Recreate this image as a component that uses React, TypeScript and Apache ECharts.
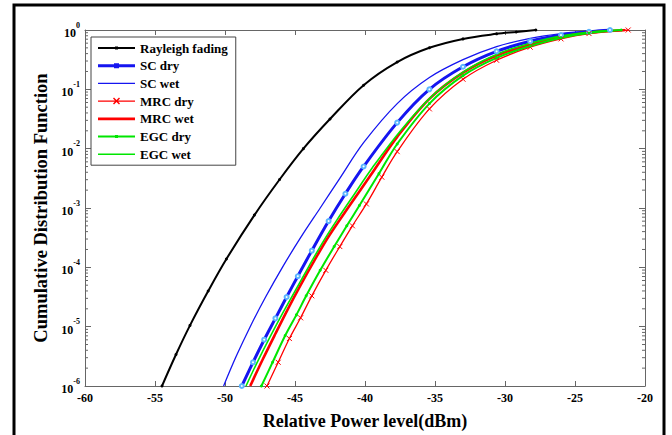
import React, { useEffect, useRef } from "react";
import * as echarts from "echarts";

// Relative power level (dBm) and cumulative distribution values
const rayleighX = [-54.5, -53.5, -52.5, -51.2, -49.9, -47.9, -46.1, -44.4, -42.5, -40.1, -37.7, -35.4, -33.0, -30.6, -29.2, -27.8];
const rayleighCdf = [1e-6, 3.39e-6, 1.05e-5, 3.98e-5, 1.38e-4, 7.59e-4, 3.02e-3, 0.01, 0.0316, 0.1175, 0.288, 0.501, 0.708, 0.861, 0.927, 1];

const scDryX = [-48.8, -48.0, -47.2, -46.4, -45.6, -44.8, -43.8, -42.6, -41.4, -40.1, -37.7, -35.4, -33.0, -30.6, -28.2, -26.0, -24.0, -22.5];
const scDryCdf = [1e-6, 2.51e-6, 6.03e-6, 1.38e-5, 3.16e-5, 7.08e-5, 1.91e-4, 6.03e-4, 1.74e-3, 5.01e-3, 0.0275, 0.1, 0.24, 0.437, 0.646, 0.822, 0.933, 1];

const scWetX = [-50.1, -49.2, -48.2, -47.1, -45.9, -44.6, -43.2, -41.8, -40.1, -37.7, -35.4, -33.0, -30.6, -28.2, -26.0, -24.0, -22.4];
const scWetCdf = [1e-6, 3.16e-6, 1e-5, 3.16e-5, 1e-4, 3.16e-4, 1e-3, 3.16e-3, 0.0126, 0.0575, 0.158, 0.316, 0.525, 0.724, 0.871, 0.955, 1];

const mrcDryX = [-47.0, -46.2, -45.4, -44.6, -43.8, -42.8, -41.8, -40.9, -39.9, -38.8, -37.7, -35.4, -33.0, -30.6, -28.2, -26.0, -24.0, -21.2];
const mrcDryCdf = [1e-6, 2.51e-6, 6.31e-6, 1.41e-5, 3.31e-5, 8.91e-5, 2.24e-4, 5.01e-4, 1.17e-3, 3.31e-3, 8.91e-3, 0.0468, 0.148, 0.309, 0.513, 0.708, 0.871, 1];

const mrcWetX = [-48.2, -47.3, -46.4, -45.5, -44.6, -43.6, -42.6, -41.1, -39.6, -37.7, -35.4, -33.0, -30.6, -28.2, -26.0, -24.0, -21.4];
const mrcWetCdf = [1e-6, 2.82e-6, 7.59e-6, 2.0e-5, 5.01e-5, 1.32e-4, 3.31e-4, 1.1e-3, 3.55e-3, 0.0158, 0.0692, 0.191, 0.372, 0.562, 0.759, 0.902, 1];

const egcDryX = [-47.4, -46.6, -45.7, -44.9, -44.2, -43.2, -42.2, -41.3, -40.4, -39.0, -37.7, -35.4, -33.0, -30.6, -28.2, -26.0, -24.0, -21.7];
const egcDryCdf = [1e-6, 2.51e-6, 7.08e-6, 1.58e-5, 3.31e-5, 8.91e-5, 2.24e-4, 5.01e-4, 1.1e-3, 3.8e-3, 0.012, 0.0575, 0.17, 0.339, 0.537, 0.741, 0.891, 1];

const egcWetX = [-48.5, -47.7, -46.8, -45.9, -45.0, -44.0, -43.0, -42.0, -40.8, -39.5, -37.4, -35.1, -32.8, -30.4, -28.0, -25.8, -23.8, -21.7];
const egcWetCdf = [1e-6, 2.51e-6, 6.61e-6, 1.66e-5, 3.98e-5, 1.05e-4, 2.69e-4, 6.31e-4, 1.66e-3, 4.68e-3, 0.0209, 0.0813, 0.209, 0.407, 0.617, 0.804, 0.933, 1];

const seriesNames = ["Rayleigh fading", "SC dry", "SC wet", "MRC dry", "MRC wet", "EGC dry", "EGC wet"];
const xMin = -60;
const xMax = -20;
const xStep = 5;
const yMin = 1e-6;
const yMax = 1;
const minorMultipliers = [2, 3, 4, 5, 6, 7, 8, 9];

const FONT = "'Liberation Serif', 'Times New Roman', serif";

// legend glyphs: a line sample with the series' marker in its middle
const legendIcons = [
  "path://M0,6h37v2h-37z M17,5.5h3v3h-3z",
  "path://M0,5h37v3h-37z M16,4h5v5h-5z",
  "path://M0,0h37v1.3h-37z",
  "path://M0,4.35h37v1.3h-37z M15,2.5l1,-1l2.5,2.5l2.5,-2.5l1,1l-2.5,2.5l2.5,2.5l-1,1l-2.5,-2.5l-2.5,2.5l-1,-1l2.5,-2.5z",
  "path://M0,0h37v2.8h-37z",
  "path://M0,6h37v2h-37z M17,5.5h3v3h-3z",
  "path://M0,0h37v1.6h-37z",
];

export default function App() {
  const ref = useRef<HTMLDivElement>(null);

  useEffect(() => {
    if (!ref.current) return;
    const chart = echarts.init(ref.current, null, { renderer: "svg" });
    const pair = (xs: number[], ys: number[]) => xs.map((x, i) => [x, ys[i]]);

    const BLUE = "#1515f0";
    const RED = "#ff0000";
    const GREEN = "#00e600";
    const AXIS = "#666";
    const colors = ["#000", BLUE, BLUE, RED, RED, GREEN, GREEN];

    const option: any = {
      animation: false,
      backgroundColor: "#fff",
      grid: { left: 85, right: 27, top: 30, bottom: 43, containLabel: false },
      legend: {
        orient: "vertical",
        left: 91,
        top: 37,
        padding: [4, 8, 4, 7],
        itemWidth: 37,
        itemHeight: 14,
        itemGap: 3.7,
        symbolKeepAspect: true,
        backgroundColor: "#fff",
        borderColor: "#444",
        borderWidth: 1,
        textStyle: { fontFamily: FONT, fontWeight: "bold", fontSize: 13, color: "#000", lineHeight: 14 },
        data: seriesNames.map((name, i) => ({
          name,
          icon: legendIcons[i],
          itemStyle: { color: colors[i], borderWidth: 0, opacity: 1 },
        })),
      },
      xAxis: [
        {
          type: "value",
          min: xMin,
          max: xMax,
          interval: xStep,
          name: "Relative Power level(dBm)",
          nameLocation: "middle",
          nameGap: 26,
          nameTextStyle: { fontFamily: FONT, fontWeight: "bold", fontSize: 18, color: "#000", verticalAlign: "top" },
          axisLine: { lineStyle: { color: AXIS, width: 1 } },
          axisTick: { inside: true, length: 5, lineStyle: { color: AXIS } },
          axisLabel: { fontFamily: FONT, fontWeight: "bold", fontSize: 12, color: "#000", margin: 6 },
          splitLine: { show: false },
        },
        {
          type: "value",
          position: "top",
          min: xMin,
          max: xMax,
          interval: xStep,
          axisLine: { lineStyle: { color: AXIS, width: 1 } },
          axisTick: { inside: true, length: 5, lineStyle: { color: AXIS } },
          axisLabel: { show: false },
          splitLine: { show: false },
        },
      ],
      yAxis: [
        {
          type: "log",
          logBase: 10,
          min: yMin,
          max: yMax,
          name: "Cumulative Distribution Function",
          nameLocation: "middle",
          nameGap: 30,
          nameTextStyle: { fontFamily: FONT, fontWeight: "bold", fontSize: 18.5, color: "#000" },
          axisLine: { lineStyle: { color: AXIS, width: 1 } },
          axisTick: { inside: true, length: 6, lineStyle: { color: AXIS } },
          axisLabel: {
            margin: 5,
            formatter: (v: number) => `{b|10}{s|${Math.round(Math.log10(v))}}`,
            rich: {
              b: { fontFamily: FONT, fontWeight: "bold", fontSize: 12, color: "#000", lineHeight: 18, verticalAlign: "bottom" },
              s: { fontFamily: FONT, fontWeight: "bold", fontSize: 8, color: "#000", lineHeight: 18, verticalAlign: "top" },
            },
          },
          splitLine: { show: false },
        },
        {
          type: "log",
          logBase: 10,
          min: yMin,
          max: yMax,
          position: "right",
          axisLine: { lineStyle: { color: AXIS, width: 1 } },
          axisTick: { inside: true, length: 6, lineStyle: { color: AXIS } },
          axisLabel: { show: false },
          splitLine: { show: false },
        },
      ],
      series: [
        {
          name: seriesNames[0],
          type: "line",
          data: pair(rayleighX, rayleighCdf),
          smooth: 0.35,
          symbol: "circle",
          symbolSize: 3,
          color: "#000",
          lineStyle: { color: "#000", width: 2 },
          itemStyle: { color: "#000" },
        },
        {
          name: seriesNames[1],
          type: "line",
          data: pair(scDryX, scDryCdf),
          smooth: 0.35,
          symbol: "emptyCircle",
          symbolSize: 4,
          color: BLUE,
          lineStyle: { color: BLUE, width: 3 },
          itemStyle: { color: "#5ab4ff", borderColor: BLUE, borderWidth: 1 },
        },
        {
          name: seriesNames[2],
          type: "line",
          data: pair(scWetX, scWetCdf),
          smooth: 0.35,
          symbol: "none",
          color: BLUE,
          lineStyle: { color: BLUE, width: 1.3 },
        },
        {
          name: seriesNames[3],
          type: "line",
          data: pair(mrcDryX, mrcDryCdf),
          smooth: 0.35,
          symbol: "path://M0,0L10,10M10,0L0,10",
          symbolSize: 5,
          color: RED,
          lineStyle: { color: RED, width: 1.3 },
          itemStyle: { color: "none", borderColor: RED, borderWidth: 1 },
        },
        {
          name: seriesNames[4],
          type: "line",
          data: pair(mrcWetX, mrcWetCdf),
          smooth: 0.35,
          symbol: "none",
          color: RED,
          lineStyle: { color: RED, width: 2.6 },
        },
        {
          name: seriesNames[5],
          type: "line",
          data: pair(egcDryX, egcDryCdf),
          smooth: 0.35,
          symbol: "circle",
          symbolSize: 3,
          color: GREEN,
          lineStyle: { color: GREEN, width: 2 },
          itemStyle: { color: GREEN },
        },
        {
          name: seriesNames[6],
          type: "line",
          data: pair(egcWetX, egcWetCdf),
          smooth: 0.35,
          symbol: "none",
          color: GREEN,
          lineStyle: { color: GREEN, width: 1.6 },
        },
      ],
    };

    chart.setOption(option);

    // logarithmic minor ticks on the left and right axes, placed through the axis scale
    const left = chart.convertToPixel({ xAxisIndex: 0 }, xMin) as number;
    const right = chart.convertToPixel({ xAxisIndex: 0 }, xMax) as number;
    const graphics: any[] = [];
    for (let k = -6; k < 0; k++) {
      for (const m of minorMultipliers) {
        const y = chart.convertToPixel({ yAxisIndex: 0 }, m * Math.pow(10, k)) as number;
        graphics.push({
          type: "line",
          silent: true,
          shape: { x1: left, y1: y, x2: left + 3, y2: y },
          style: { stroke: AXIS, lineWidth: 1 },
        });
        graphics.push({
          type: "line",
          silent: true,
          shape: { x1: right - 3, y1: y, x2: right, y2: y },
          style: { stroke: AXIS, lineWidth: 1 },
        });
      }
    }
    graphics.push({
      type: "rect",
      silent: true,
      z: 100,
      shape: { x: 14, y: 5, width: 650, height: 470 },
      style: { fill: "none", stroke: "#000", lineWidth: 3 },
    });
    chart.setOption({ graphic: graphics });

    return () => chart.dispose();
  }, []);

  return <div ref={ref} style={{ position: "fixed", left: 0, top: 0, width: 672, height: 435 }} />;
}
